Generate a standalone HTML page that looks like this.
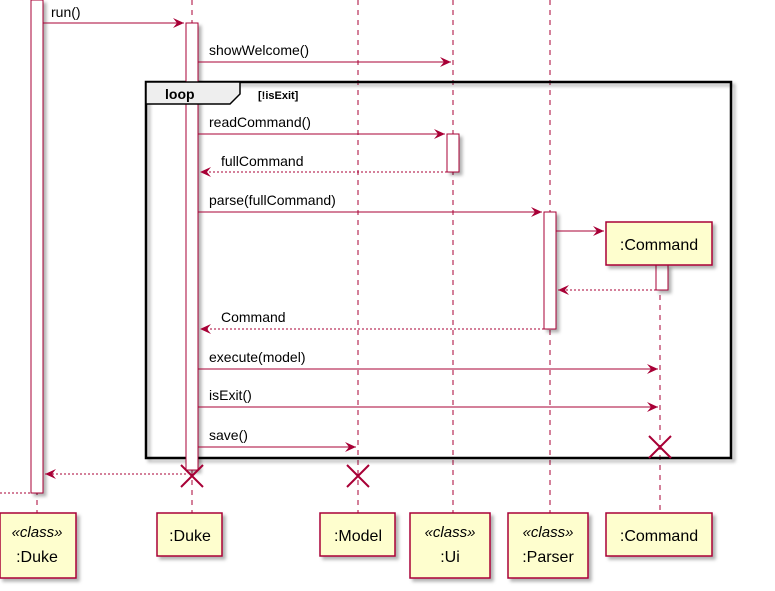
<html><body style="margin:0;background:#fff">
<svg width="775" height="591" xmlns="http://www.w3.org/2000/svg" font-family="Liberation Sans, sans-serif" font-size="14">
<defs>
<filter id="sh"><feDropShadow dx="3" dy="3" stdDeviation="1.5" flood-color="#000" flood-opacity="0.3"/></filter>
<marker id="a" markerWidth="12" markerHeight="10" refX="11" refY="5" orient="auto" markerUnits="userSpaceOnUse"><path d="M0,0 L11,5 L0,10 L4,5 Z" fill="#A80036"/></marker>
</defs>
<g stroke="#A80036" stroke-dasharray="5,5" stroke-width="1">
<line x1="37" y1="0" x2="37" y2="513"/>
<line x1="192" y1="0" x2="192" y2="513"/>
<line x1="358" y1="0" x2="358" y2="513"/>
<line x1="453" y1="0" x2="453" y2="513"/>
<line x1="550" y1="0" x2="550" y2="513"/>
<line x1="660" y1="265" x2="660" y2="513"/>
<line x1="0" y1="493" x2="31" y2="493" stroke-dasharray="2,2"/>
</g>
<rect x="146" y="82" width="585" height="376" fill="none" stroke="#000" stroke-width="2.5" filter="url(#sh)"/>
<g fill="#fff" stroke="#A80036" filter="url(#sh)">
<rect x="31" y="0" width="12" height="493"/>
<rect x="186" y="23" width="12" height="447"/>
<rect x="447" y="134" width="12" height="38"/>
<rect x="544" y="212" width="12" height="117"/>
<rect x="656" y="265" width="12" height="25"/>
</g>
<path d="M146,82 L240,82 L240,94 L230,104 L146,104 Z" fill="#EEE" stroke="#000" stroke-width="1.5"/>
<text x="165" y="99" font-weight="bold" font-size="14">loop</text>
<text x="258" y="99" font-weight="bold" font-size="11">[!isExit]</text>
<g stroke="#A80036" stroke-width="1" fill="none">
<line x1="43" y1="23" x2="184" y2="23" marker-end="url(#a)"/>
<line x1="198" y1="62" x2="451" y2="62" marker-end="url(#a)"/>
<line x1="198" y1="134" x2="445" y2="134" marker-end="url(#a)"/>
<line x1="447" y1="172" x2="200" y2="172" stroke-dasharray="2,2" marker-end="url(#a)"/>
<line x1="198" y1="212" x2="542" y2="212" marker-end="url(#a)"/>
<line x1="556" y1="231" x2="604" y2="231" marker-end="url(#a)"/>
<line x1="656" y1="290" x2="558" y2="290" stroke-dasharray="2,2" marker-end="url(#a)"/>
<line x1="544" y1="329" x2="200" y2="329" stroke-dasharray="2,2" marker-end="url(#a)"/>
<line x1="198" y1="369" x2="658" y2="369" marker-end="url(#a)"/>
<line x1="198" y1="407" x2="658" y2="407" marker-end="url(#a)"/>
<line x1="198" y1="447" x2="356" y2="447" marker-end="url(#a)"/>
<line x1="186" y1="474" x2="45" y2="474" stroke-dasharray="2,2" marker-end="url(#a)"/>
</g>
<g stroke="#A80036" stroke-width="2">
<path d="M649,436 L671,458 M671,436 L649,458"/>
<path d="M181,465 L203,487 M203,465 L181,487"/>
<path d="M347,465 L369,487 M369,465 L347,487"/>
</g>
<g font-size="14" fill="#000">
<text x="51" y="17">run()</text>
<text x="209" y="55">showWelcome()</text>
<text x="209" y="127">readCommand()</text>
<text x="221" y="166">fullCommand</text>
<text x="209" y="205">parse(fullCommand)</text>
<text x="221" y="322">Command</text>
<text x="209" y="362">execute(model)</text>
<text x="209" y="400">isExit()</text>
<text x="209" y="440">save()</text>
</g>
<g fill="#FEFECE" stroke="#A80036" stroke-width="1.5" filter="url(#sh)">
<rect x="606" y="222" width="106" height="43"/>
<rect x="0" y="513" width="76" height="65"/>
<rect x="157" y="513" width="65" height="43"/>
<rect x="320" y="513" width="75" height="43"/>
<rect x="410" y="513" width="80" height="65"/>
<rect x="508" y="513" width="80" height="65"/>
<rect x="606" y="513" width="106" height="43"/>
</g>
<g font-size="16" fill="#000" text-anchor="middle">
<text x="659" y="250">:Command</text>
<text x="37" y="537" font-style="italic" font-size="15">«class»</text>
<text x="37" y="562">:Duke</text>
<text x="190" y="541">:Duke</text>
<text x="358" y="541">:Model</text>
<text x="450" y="537" font-style="italic" font-size="15">«class»</text>
<text x="450" y="562">:Ui</text>
<text x="548" y="537" font-style="italic" font-size="15">«class»</text>
<text x="548" y="562">:Parser</text>
<text x="659" y="541">:Command</text>
</g>
</svg>
</body></html>
